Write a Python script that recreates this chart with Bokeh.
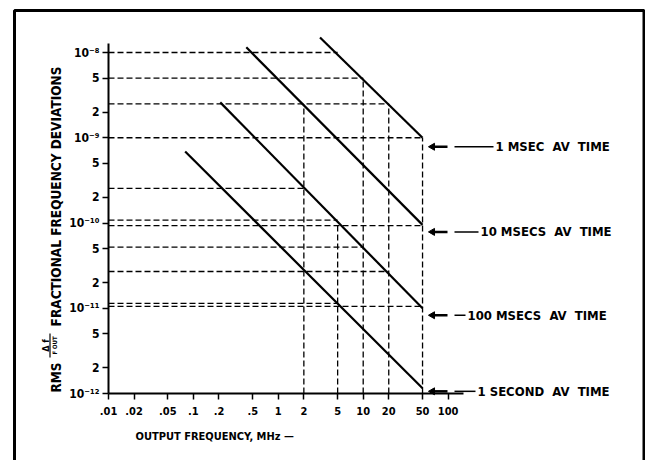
import math
from bokeh.plotting import figure
from bokeh.models import Range1d, FixedTicker
from bokeh.core.properties import value
from bokeh.embed import file_html
from bokeh.resources import INLINE

# ---------------- data ----------------
freq_ticks = [0.01, 0.02, 0.05, 0.1, 0.2, 0.5, 1, 2, 5, 10, 20, 50, 100]
freq_tick_labels = [".01", ".02", ".05", ".1", ".2", ".5", "1", "2", "5", "10", "20", "50", "100"]

dev_ticks = [1e-12, 2e-12, 5e-12, 1e-11, 2e-11, 5e-11, 1e-10, 2e-10, 5e-10,
             1e-9, 2e-9, 5e-9, 1e-8]
dev_tick_labels = ["10\u207b\u00b9\u00b2", "2", "5", "10\u207b\u00b9\u00b9", "2", "5",
                   "10\u207b\u00b9\u2070", "2", "5", "10\u207b\u2079", "2", "5", "10\u207b\u2078"]

series_names = ["1 MSEC\u00a0 AV\u00a0 TIME", "10 MSECS\u00a0 AV\u00a0 TIME",
                "100 MSECS\u00a0 AV\u00a0 TIME", "1 SECOND\u00a0 AV\u00a0 TIME"]
f_start = [3.1, 0.42, 0.207, 0.08]
dev_start = [1.5e-8, 1.15e-8, 2.6e-9, 6.9e-10]
f_end = [50, 50, 50, 50]
dev_end = [1.0e-9, 0.95e-10, 1.0e-11, 1.15e-12]

# horizontal guide lines: from the axis (.01 MHz) to (guide_h_f, guide_h_dev)
guide_h_f = [5, 10, 20, 50, 2, 5, 50, 10, 20, 5, 50]
guide_h_dev = [1.0e-8, 5.0e-9, 2.5e-9, 1.0e-9, 2.55e-10, 1.08e-10, 0.93e-10,
               5.2e-11, 2.7e-11, 1.14e-11, 1.05e-11]
# vertical guide lines: from the axis (1e-12) up to (guide_v_f, guide_v_dev)
guide_v_f = [2, 5, 10, 20, 50]
guide_v_dev = [2.45e-9, 1.05e-10, 5.0e-9, 2.5e-9, 1.0e-9]

x_axis_min, x_axis_max = 0.01, 150
y_axis_min, y_axis_max = 1e-12, 1.28e-8

# ---------------- layout helpers (picture pixels -> data) ----------------
W, H = 645, 460
X0_PX, X_DEC = 108.0, 84.9    # x pixel of 0.01 MHz, px per decade
Y0_PX, Y_DEC = 393.0, 85.25   # y pixel of 1e-12, px per decade


def fx(px):
    return 10 ** (-2 + (px - X0_PX) / X_DEC)


def fy(py):
    return 10 ** (-12 + (Y0_PX - py) / Y_DEC)


def py_of(v):
    return Y0_PX - (math.log10(v) + 12) * Y_DEC


FONT_NAME = "DejaVu Sans Condensed"
FONT = value(FONT_NAME)

p = figure(width=W, height=H, x_axis_type="log", y_axis_type="log",
           x_range=Range1d(fx(0), fx(W)), y_range=Range1d(fy(H), fy(0)),
           output_backend="svg", toolbar_location=None, min_border=0)
p.grid.visible = False
p.outline_line_color = None
p.background_fill_color = "white"
p.border_fill_color = "white"

# axes placed at the data origin
xa = p.xaxis[0]
ya = p.yaxis[0]
xa.fixed_location = y_axis_min
ya.fixed_location = x_axis_min
xa.bounds = (x_axis_min, x_axis_max)
ya.bounds = (y_axis_min, y_axis_max)
xa.ticker = FixedTicker(ticks=freq_ticks, minor_ticks=[])
ya.ticker = FixedTicker(ticks=dev_ticks, minor_ticks=[])
xa.major_label_overrides = {t: l for t, l in zip(freq_ticks, freq_tick_labels)}
ya.major_label_overrides = {t: l for t, l in zip(dev_ticks, dev_tick_labels)}
for ax in (xa, ya):
    ax.axis_line_width = 2
    ax.axis_line_color = "black"
    ax.major_tick_line_width = 1.5
    ax.major_tick_line_color = "black"
    ax.major_tick_out = 6
    ax.major_tick_in = 0
    ax.minor_tick_out = 0
    ax.minor_tick_in = 0
    ax.major_label_text_font = FONT_NAME
    ax.major_label_text_font_style = "bold"
    ax.major_label_text_color = "black"
xa.major_label_text_font_size = "11px"
ya.major_label_text_font_size = "12px"
xa.major_label_standoff = 7
ya.major_label_standoff = 3

# guide lines
for f, d in zip(guide_h_f, guide_h_dev):
    p.line([x_axis_min, f], [d, d], line_color="black", line_width=1.3, line_dash="6 3")
for f, d in zip(guide_v_f, guide_v_dev):
    p.line([f, f], [y_axis_min, d], line_color="black", line_width=1.3, line_dash="6 3")

# main lines
for fs, ds, fe, de in zip(f_start, dev_start, f_end, dev_end):
    p.line([fs, fe], [ds, de], line_color="black", line_width=2.2)

# right-side annotations
label_dy = [9, 7, 7, 3]
text_x = [495, 480, 467, 477]
for name, de, dy, tx in zip(series_names, dev_end, label_dy, text_x):
    yy = fy(py_of(de) + dy)
    p.scatter([fx(432)], [yy], marker="triangle", size=7, angle=math.pi / 2,
              fill_color="black", line_color="black")
    p.line([fx(433), fx(447)], [yy, yy], line_color="black", line_width=2.5)
    p.line([fx(454), fx(tx - 2)], [yy, yy], line_color="black", line_width=1.5)
    p.text([fx(tx)], [yy], text=[name], text_font=FONT, text_font_style="bold",
           text_font_size="13px", text_align="left", text_baseline="middle",
           text_color="black")

# axis titles
p.text([fx(55)], [fy(196)], text=["FRACTIONAL FREQUENCY DEVIATIONS"], angle=math.pi / 2,
       text_font=FONT, text_font_style="bold", text_font_size="13.5px",
       text_align="center", text_baseline="middle", text_color="black")
p.text([fx(55)], [fy(377)], text=["RMS"], angle=math.pi / 2,
       text_font=FONT, text_font_style="bold", text_font_size="13.5px",
       text_align="center", text_baseline="middle", text_color="black")
p.text([fx(45)], [fy(345)], text=["\u0394 f"], angle=math.pi / 2,
       text_font=FONT, text_font_style="bold", text_font_size="9px",
       text_align="center", text_baseline="middle", text_color="black")
p.line([fx(49.5), fx(49.5)], [fy(333), fy(357)], line_color="black", line_width=1.2)
p.text([fx(53.5)], [fy(345)], text=["F OUT"], angle=math.pi / 2,
       text_font=FONT, text_font_style="bold", text_font_size="6px",
       text_align="center", text_baseline="middle", text_color="black")
p.text([fx(135)], [fy(436)], text=["OUTPUT FREQUENCY, MHz \u2014"],
       text_font=FONT, text_font_style="bold", text_font_size="11px",
       text_align="left", text_baseline="middle", text_color="black")

# outer frame (open at the bottom)
p.line([fx(14), fx(14), fx(643.5), fx(643.5)], [fy(490), fy(10), fy(10), fy(490)],
       line_color="black", line_width=3)

open("out.html", "w").write(file_html(p, INLINE))
